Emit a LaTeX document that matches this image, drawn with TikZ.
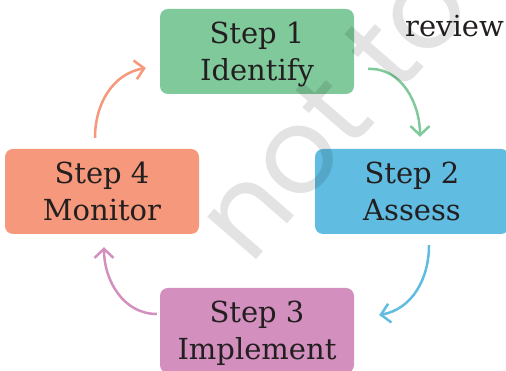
\documentclass[tikz,border=0pt]{standalone}
\usepackage{fontspec}
\newfontfamily\wmfont{Poppins}
\newfontfamily\boxfont{DejaVu Serif}
\usetikzlibrary{arrows.meta,calc}
\definecolor{cgreen}{RGB}{127,201,155}
\definecolor{cblue}{RGB}{96,188,224}
\definecolor{csalmon}{RGB}{245,152,123}
\definecolor{cpink}{RGB}{211,143,190}
\definecolor{ctext}{RGB}{35,31,32}
\tikzset{
  stepbox/.style={rounded corners=8pt, minimum width=194pt, minimum height=85pt,
    inner sep=0pt, align=center, text=ctext, text depth=0pt,
    font=\boxfont\fontsize{29}{37}\selectfont},
  cyc/.style={line width=2.5pt, -{Straight Barb[length=9pt,width=19pt]}},
}
\begin{document}
\begin{tikzpicture}[x=1pt,y=1pt]
\useasboundingbox (0,0) rectangle (506,371);
\node[stepbox, fill=cgreen]   (s1) at (257,319.5) {Step 1\\Identify};
\node[stepbox, fill=cblue]    (s2) at (412,179.5) {Step 2\\Assess};
\node[stepbox, fill=cpink]    (s3) at (257,40.5)  {Step 3\\Implement};
\node[stepbox, fill=csalmon]  (s4) at (102,179.5) {Step 4\\Monitor};
\node[anchor=base west, inner sep=0pt, text=ctext, font=\boxfont\fontsize{29}{37}\selectfont] (rv) at (405,334) {review};
\draw[cyc, draw=cgreen] ($(s1.east)+(14,-17.5)$) to[out=3,in=90] ($(s2.north)+(8,12)$);
\draw[cyc, draw=cblue] ($(s2.south)+(17,-11)$) to[out=-90,in=10] ($(s3.east)+(25,15.5)$);
\draw[cyc, draw=cpink] ($(s3.west)+(-3,16.5)$) to[out=180,in=-90] ($(s4.south)+(2,-13)$);
\draw[cyc, draw=csalmon] ($(s4.north)+(-7,11)$) to[out=90,in=190] ($(s1.west)+(-14,-16.5)$);
\node[anchor=base west, inner sep=0pt, rotate=49, text=black, opacity=0.11,
  font=\wmfont\fontsize{118}{118}\selectfont] (wm) at (250,104) {not to};
\end{tikzpicture}
\end{document}
